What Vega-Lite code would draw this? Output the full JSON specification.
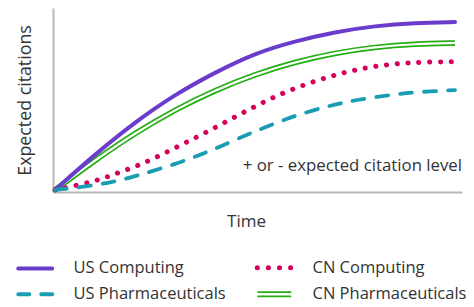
{
  "$schema": "https://vega.github.io/schema/vega-lite/v6.json",
  "width": 409,
  "height": 184,
  "autosize": {"type": "none"},
  "padding": {"left": 53, "top": 8, "right": 12, "bottom": 115},
  "background": "white",
  "config": {
    "font": "Open Sans",
    "view": {"stroke": null},
    "axis": {"grid": false, "ticks": false, "labels": false, "domainColor": "#b8b8b8", "domainWidth": 2, "titleFontSize": 17, "titleFontWeight": "normal", "titleColor": "#333333"}
  },
  "data": {
    "values": [
      {"series": "US Computing", "t": 0, "v": 1.1},
      {"series": "US Computing", "t": 10, "v": 20.5},
      {"series": "US Computing", "t": 20, "v": 38},
      {"series": "US Computing", "t": 30, "v": 53},
      {"series": "US Computing", "t": 40, "v": 65},
      {"series": "US Computing", "t": 50, "v": 75.5},
      {"series": "US Computing", "t": 60, "v": 82},
      {"series": "US Computing", "t": 70, "v": 87},
      {"series": "US Computing", "t": 80, "v": 90.3},
      {"series": "US Computing", "t": 90, "v": 91.9},
      {"series": "US Computing", "t": 100, "v": 92.4},
      {"series": "CN Pharmaceuticals", "t": 0, "v": 1.1},
      {"series": "CN Pharmaceuticals", "t": 10, "v": 17.3},
      {"series": "CN Pharmaceuticals", "t": 20, "v": 32},
      {"series": "CN Pharmaceuticals", "t": 30, "v": 44.7},
      {"series": "CN Pharmaceuticals", "t": 40, "v": 55.3},
      {"series": "CN Pharmaceuticals", "t": 50, "v": 64},
      {"series": "CN Pharmaceuticals", "t": 60, "v": 70.7},
      {"series": "CN Pharmaceuticals", "t": 70, "v": 75.6},
      {"series": "CN Pharmaceuticals", "t": 80, "v": 78.8},
      {"series": "CN Pharmaceuticals", "t": 90, "v": 80.5},
      {"series": "CN Pharmaceuticals", "t": 100, "v": 81.0},
      {"series": "CN Computing", "t": 0, "v": 1.1},
      {"series": "CN Computing", "t": 10.5, "v": 6.0},
      {"series": "CN Computing", "t": 15.5, "v": 10.3},
      {"series": "CN Computing", "t": 20.5, "v": 14.1},
      {"series": "CN Computing", "t": 25.5, "v": 19.0},
      {"series": "CN Computing", "t": 30.5, "v": 24.5},
      {"series": "CN Computing", "t": 35.5, "v": 29.9},
      {"series": "CN Computing", "t": 40.25, "v": 35.3},
      {"series": "CN Computing", "t": 45, "v": 40.8},
      {"series": "CN Computing", "t": 49.75, "v": 46.2},
      {"series": "CN Computing", "t": 54.5, "v": 51.4},
      {"series": "CN Computing", "t": 59.5, "v": 56.0},
      {"series": "CN Computing", "t": 64.75, "v": 60.1},
      {"series": "CN Computing", "t": 70, "v": 63.6},
      {"series": "CN Computing", "t": 75.25, "v": 66.5},
      {"series": "CN Computing", "t": 80.5, "v": 68.5},
      {"series": "CN Computing", "t": 86, "v": 69.9},
      {"series": "CN Computing", "t": 91.5, "v": 70.6},
      {"series": "CN Computing", "t": 100, "v": 70.8},
      {"series": "US Pharmaceuticals", "t": 0, "v": 1.1},
      {"series": "US Pharmaceuticals", "t": 7, "v": 2.7},
      {"series": "US Pharmaceuticals", "t": 14.5, "v": 5.4},
      {"series": "US Pharmaceuticals", "t": 20.75, "v": 9.0},
      {"series": "US Pharmaceuticals", "t": 27, "v": 13.1},
      {"series": "US Pharmaceuticals", "t": 33.75, "v": 18.0},
      {"series": "US Pharmaceuticals", "t": 39.5, "v": 23.0},
      {"series": "US Pharmaceuticals", "t": 45.75, "v": 29.0},
      {"series": "US Pharmaceuticals", "t": 52, "v": 34.8},
      {"series": "US Pharmaceuticals", "t": 58, "v": 39.9},
      {"series": "US Pharmaceuticals", "t": 64.25, "v": 44.3},
      {"series": "US Pharmaceuticals", "t": 70, "v": 47.6},
      {"series": "US Pharmaceuticals", "t": 75.5, "v": 50.1},
      {"series": "US Pharmaceuticals", "t": 83.75, "v": 52.8},
      {"series": "US Pharmaceuticals", "t": 90.75, "v": 54.4},
      {"series": "US Pharmaceuticals", "t": 100, "v": 55.4}
    ]
  },
  "encoding": {
    "x": {"field": "t", "type": "quantitative", "scale": {"domain": [-0.5, 101.75], "nice": false, "zero": false}, "axis": {"title": "Time", "titlePadding": 21, "titleX": 193, "titleAlign": "center"}},
    "y": {"field": "v", "type": "quantitative", "scale": {"domain": [0, 100], "nice": false}, "axis": {"title": "Expected citations", "titlePadding": 19, "titleFontSize": 17.8}}
  },
  "layer": [
    {
      "transform": [{"filter": "datum.series === 'CN Pharmaceuticals'"}],
      "mark": {"type": "line", "interpolate": "basis", "strokeWidth": 5.6, "strokeCap": "butt"},
      "encoding": {
        "color": {
          "field": "series", "type": "nominal",
          "scale": {"domain": ["US Computing", "CN Computing", "US Pharmaceuticals", "CN Pharmaceuticals"], "range": ["#6a3ccc", "#d4005c", "#1a9cb3", "#24ae14"]},
          "legend": {
            "title": null, "orient": "none", "legendX": -26, "legendY": 251, "columns": 2, "direction": "horizontal",
            "symbolType": "stroke", "symbolSize": 1156, "symbolStrokeWidth": 4,
            "labelFontSize": 16.5, "labelColor": "#333333", "labelOffset": 30, "labelLimit": 300,
            "rowPadding": 8, "columnPadding": 21, "padding": 0,
            "encode": {
              "symbols": {
                "update": {
                  "strokeDash": {"signal": "datum.value === 'CN Computing' ? [0.1, 11] : datum.value === 'US Pharmaceuticals' ? [11, 12] : [1, 0]"},
                  "strokeWidth": {"signal": "datum.value === 'CN Computing' ? 5 : datum.value === 'CN Pharmaceuticals' ? 1.7 : 4"},
                  "shape": {"signal": "datum.value === 'CN Pharmaceuticals' ? 'M-1,-0.12H1M-1,0.12H1' : 'stroke'"},
                  "strokeCap": {"signal": "datum.value === 'CN Pharmaceuticals' ? 'butt' : 'round'"}
                }
              }
            }
          }
        }
      }
    },
    {
      "transform": [{"filter": "datum.series === 'CN Pharmaceuticals'"}],
      "mark": {"type": "line", "interpolate": "basis", "strokeWidth": 2.2, "stroke": "white", "strokeCap": "butt"},
      "encoding": {}
    },
    {
      "transform": [{"filter": "datum.series === 'US Computing'"}],
      "mark": {"type": "line", "interpolate": "basis", "strokeWidth": 4, "strokeCap": "round"},
      "encoding": {"color": {"field": "series", "type": "nominal"}}
    },
    {
      "transform": [{"filter": "datum.series === 'CN Computing'"}],
      "mark": {"type": "line", "interpolate": "basis", "strokeWidth": 5, "strokeCap": "round", "strokeDash": [0.1, 10.7]},
      "encoding": {"color": {"field": "series", "type": "nominal"}}
    },
    {
      "transform": [{"filter": "datum.series === 'US Pharmaceuticals'"}],
      "mark": {"type": "line", "interpolate": "basis", "strokeWidth": 3.8, "strokeCap": "round", "strokeDash": [12, 12]},
      "encoding": {"color": {"field": "series", "type": "nominal"}}
    },
    {
      "data": {"values": [{"label": "+ or - expected citation level", "t": 101.75, "v": 11.5}]},
      "mark": {"type": "text", "align": "right", "baseline": "alphabetic", "fontSize": 16.8, "color": "#333333"},
      "encoding": {"text": {"field": "label", "type": "nominal"}}
    }
  ]
}
